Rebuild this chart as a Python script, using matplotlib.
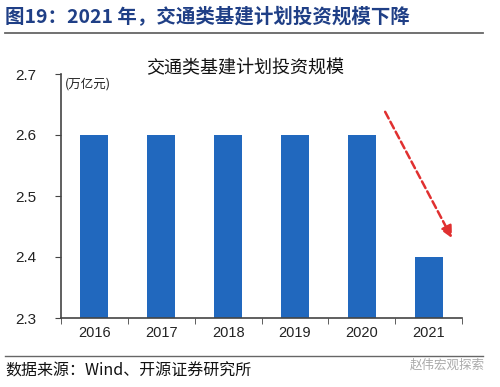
import matplotlib
matplotlib.use("Agg")
import matplotlib.pyplot as plt
import numpy as np

years = ["2016", "2017", "2018", "2019", "2020", "2021"]
values = [2.6, 2.6, 2.6, 2.6, 2.6, 2.4]
yticks = [2.3, 2.4, 2.5, 2.6, 2.7]

plt.rcParams['font.family'] = ['Noto Sans CJK SC', 'DejaVu Sans']

W, H = 500, 387
fig = plt.figure(figsize=(5, 3.87), dpi=100)

def fx(px):
    return px / W
def fy(py):
    return 1 - py / H

ax = fig.add_axes([fx(61), fy(318), fx(462) - fx(61), fy(74) - fy(318)])
x = np.arange(len(years))
ax.bar(x, values, width=0.42, color="#2168BE", bottom=0, zorder=2)
ax.set_xlim(-0.5, len(years) - 0.5)
ax.set_ylim(2.3, 2.7)
ax.set_yticks(yticks)
ax.set_yticklabels([f"{v:.1f}" for v in yticks], fontsize=11, family=['Liberation Sans'], color="#222222")
ax.set_xticks(x)
ax.set_xticklabels(years, fontsize=10.5, family=['Liberation Sans'], color="#222222")
ax.set_xticks(np.arange(-0.5, len(years)), minor=True)
ax.tick_params(axis='x', which='major', length=0, pad=6)
ax.tick_params(axis='x', which='minor', length=4, direction='out', color="#444444")
ax.tick_params(axis='y', length=4, direction='out', color="#444444", pad=14)
for s in ['top', 'right']:
    ax.spines[s].set_visible(False)
for s in ['left', 'bottom']:
    ax.spines[s].set_color("#444444")
    ax.spines[s].set_linewidth(1.2)

ax.text(0.01, 0.985, "(万亿元)", transform=ax.transAxes, fontsize=9, va='top', ha='left', color="#222222")

ax.annotate("", xy=(5.35, 2.431), xytext=(4.35, 2.638),
            arrowprops=dict(arrowstyle="-|>,head_length=0.7,head_width=0.35", color="#E03030",
                            linestyle=(0, (3, 1.5)), lw=1.8, shrinkA=0, shrinkB=0), zorder=5)

fig.text(fx(245), fy(68), "交通类基建计划投资规模", fontsize=13, ha='center', va='center', color="#111111")

fig.text(fx(5), fy(17), "图19：2021 年，交通类基建计划投资规模下降", fontsize=14, fontweight='bold',
         ha='left', va='center', color="#1F3F86")
fig.add_artist(plt.Line2D([fx(5), fx(483)], [fy(33), fy(33)], color="#666666", lw=1.3))
fig.add_artist(plt.Line2D([fx(5), fx(483)], [fy(356), fy(356)], color="#666666", lw=1.0))
fig.text(fx(5), fy(371), "数据来源：Wind、开源证券研究所", fontsize=11.5, ha='left', va='center', color="#111111")
fig.text(fx(485), fy(365), "赵伟宏观探索", fontsize=9, ha='right', va='center', color="#aaaaaa")

fig.savefig("out.png", dpi=100)
